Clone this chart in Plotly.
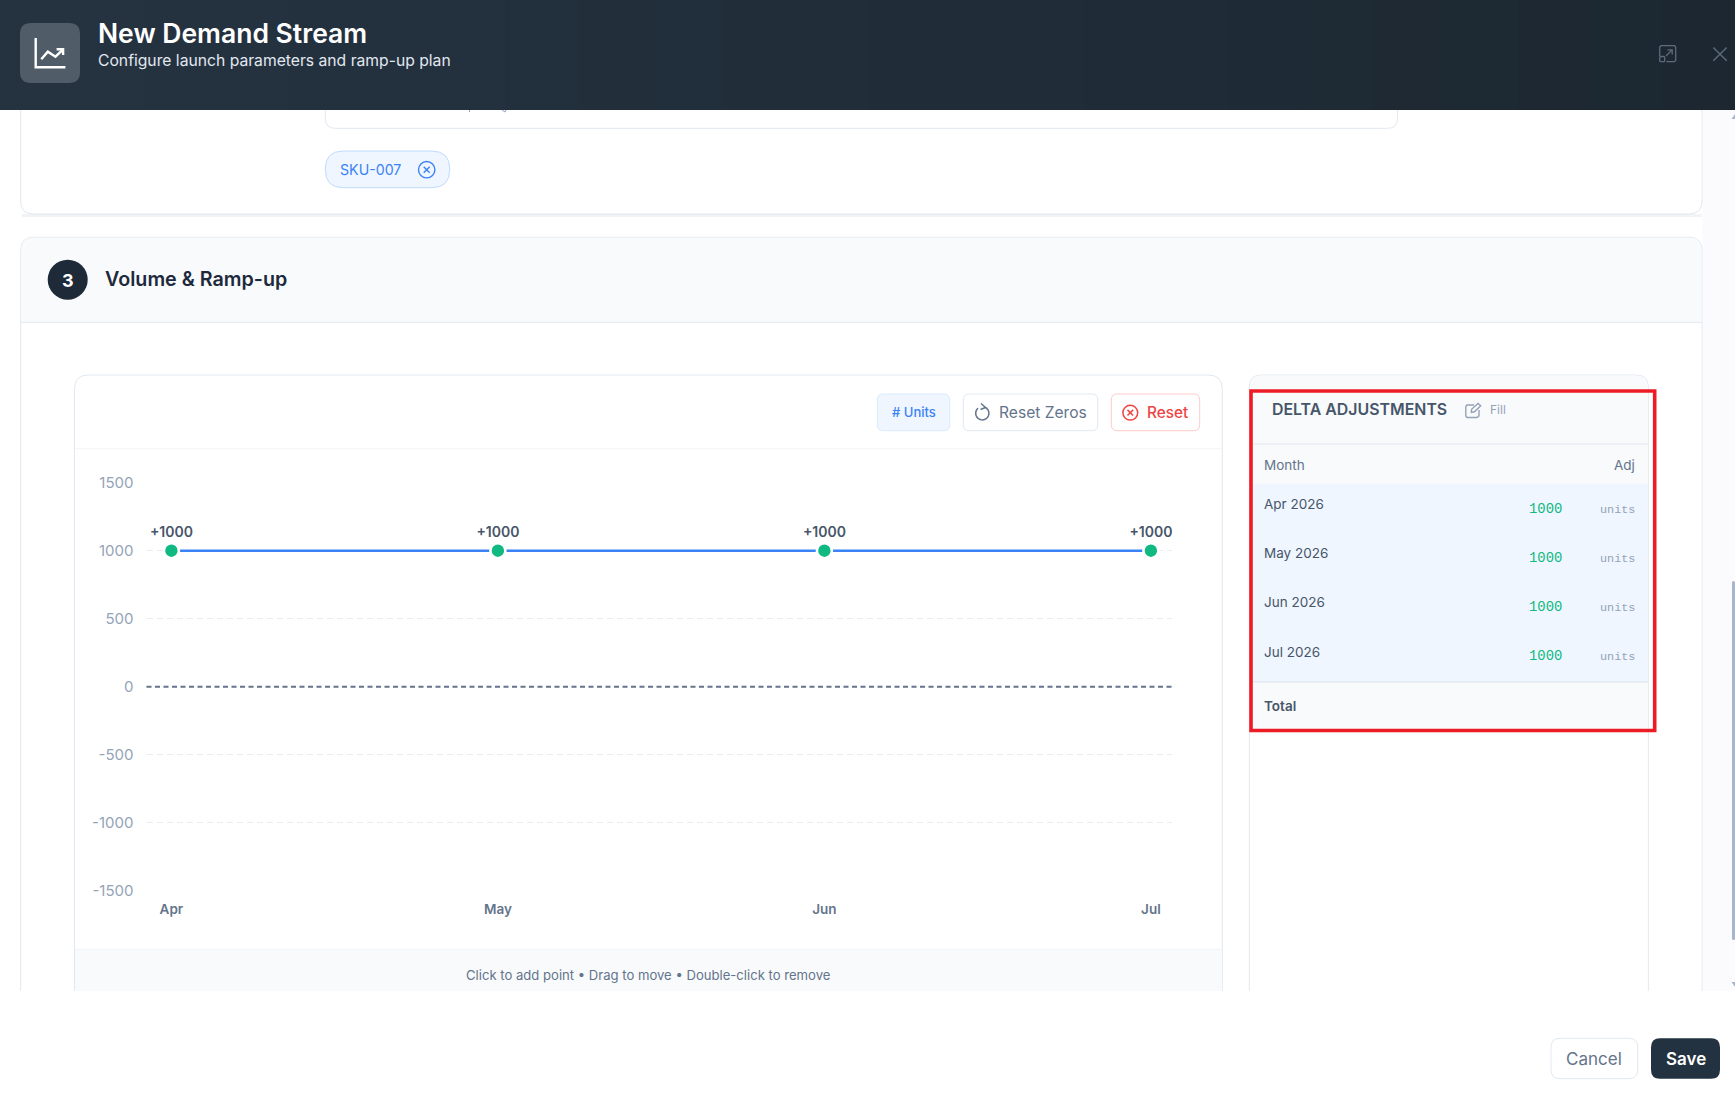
import math
import plotly.graph_objects as go

# ---------- chart data ----------
months = ["Apr", "May", "Jun", "Jul"]
month_labels = ["Apr 2026", "May 2026", "Jun 2026", "Jul 2026"]
deltas = [1000, 1000, 1000, 1000]
y_ticks = [-1500, -1000, -500, 0, 500, 1000, 1500]

W, H = 1735, 1093
X = lambda p: p / W
Y = lambda p: 1 - p / H
FONT = "Inter"

shapes, annots = [], []


def rrect(x0, y0, x1, y1, r=0, fill="rgba(0,0,0,0)", line=None, lw=1, corners=(1, 1, 1, 1)):
    tl, tr, br, bl = [r * c for c in corners]
    pts = [
        f"M{X(x0+tl)},{Y(y0)}", f"L{X(x1-tr)},{Y(y0)}", f"Q{X(x1)},{Y(y0)} {X(x1)},{Y(y0+tr)}",
        f"L{X(x1)},{Y(y1-br)}", f"Q{X(x1)},{Y(y1)} {X(x1-br)},{Y(y1)}",
        f"L{X(x0+bl)},{Y(y1)}", f"Q{X(x0)},{Y(y1)} {X(x0)},{Y(y1-bl)}",
        f"L{X(x0)},{Y(y0+tl)}", f"Q{X(x0)},{Y(y0)} {X(x0+tl)},{Y(y0)}", "Z",
    ]
    shapes.append(dict(type="path", xref="paper", yref="paper", path="".join(pts), fillcolor=fill,
                       line=dict(color=line or "rgba(0,0,0,0)", width=lw if line else 0), layer="below"))


def poly(points, color, lw=1.5, dash=None):
    p = "M" + "L".join(f"{X(a)},{Y(b)}" for a, b in points)
    shapes.append(dict(type="path", xref="paper", yref="paper", path=p, fillcolor="rgba(0,0,0,0)",
                       line=dict(color=color, width=lw), layer="below"))


def tri(points, color):
    p = "M" + "L".join(f"{X(a)},{Y(b)}" for a, b in points) + "Z"
    shapes.append(dict(type="path", xref="paper", yref="paper", path=p, fillcolor=color,
                       line=dict(color=color, width=0), layer="below"))


def arc(cx, cy, r, a0, a1, color, lw=1.5):
    n = 24
    poly([(cx + r * math.cos(math.radians(a0 + (a1 - a0) * i / n)),
           cy + r * math.sin(math.radians(a0 + (a1 - a0) * i / n))) for i in range(n + 1)], color, lw)


def circle(cx, cy, r, fill="rgba(0,0,0,0)", line=None, lw=1.5):
    shapes.append(dict(type="circle", xref="paper", yref="paper", x0=X(cx - r), x1=X(cx + r), y0=Y(cy + r), y1=Y(cy - r),
                       fillcolor=fill, line=dict(color=line or "rgba(0,0,0,0)", width=lw if line else 0), layer="below"))


def text(x, y, s, size=14, color="#475569", anchor="left", weight=400, family=FONT):
    annots.append(dict(xref="paper", yref="paper", x=X(x), y=Y(y), text=s, showarrow=False, xanchor=anchor,
                       yanchor="middle", borderpad=0, borderwidth=0,
                       font=dict(family=family, size=size, color=color, weight=weight)))


# page background / scrollbar column
rrect(1702.5, 105, 1735, 991, fill="#fbfbfd")
rrect(1732, 581, 1735, 940, r=1.5, fill="#a9b5cc")
tri([(1731.5, 119), (1735, 119), (1735, 114)], "#a9b5cc")
tri([(1731.5, 982), (1735, 982), (1735, 987)], "#a9b5cc")

# card above (scrolled)
rrect(22, 214, 1702, 217, fill="#f1f3f6")
rrect(20.7, 90, 1702, 214, r=13, fill="#ffffff", line="#e2e8f0")
rrect(325.3, 90, 1397.5, 128.3, r=10, fill="#ffffff", line="#e2e8f0")
poly([(469.5, 110), (469.5, 112)], "#94a3b8", 1)
poly([(502, 110), (505, 112), (506, 110)], "#94a3b8", 1)
rrect(325.3, 151, 449.7, 187.7, r=18, fill="#eff6ff", line="#bfdbfe")
text(339.8, 170, "SKU-007", 14.2, "#3b82f6")
circle(426.7, 169.7, 8.2, line="#3b82f6", lw=1.4)
poly([(423.7, 166.7), (429.7, 172.7)], "#3b82f6", 1.4)
poly([(429.7, 166.7), (423.7, 172.7)], "#3b82f6", 1.4)

# volume card
rrect(20.7, 237.3, 1702, 1010, r=13, fill="#ffffff", line="#e2e8f0")
rrect(21.2, 237.8, 1701.5, 322.3, r=13, fill="#f8fafc", corners=(1, 1, 0, 0))
poly([(21, 322.3), (1702, 322.3)], "#e2e8f0", 1)
circle(67.7, 279.7, 20, fill="#1e2a38")
text(67.7, 280, "3", 18, "#ffffff", "center", 700)
text(105.2, 279.3, "Volume &amp; Ramp-up", 19.7, "#1e293b", weight=600)

# chart panel
rrect(74.5, 375, 1222.3, 1010, r=14, fill="#ffffff", line="#e2e8f0")
poly([(75, 448.7), (1222, 448.7)], "#f1f5f9", 1)
rrect(75, 949.3, 1221.8, 1010, fill="#f8fafc")
poly([(75, 949.3), (1222, 949.3)], "#f1f5f9", 1)
text(648.3, 974.7, "Click to add point • Drag to move • Double-click to remove", 13.1, "#64748b", "center")

# toolbar buttons
rrect(877.3, 394, 949.7, 430.7, r=6, fill="#eff6ff", line="#dbeafe")
text(913.5, 412.3, "# Units", 13, "#3b82f6", "center", 500)
rrect(963.3, 394, 1097.7, 430.7, r=6, fill="#ffffff", line="#e2e8f0")
arc(982.3, 413.3, 6.6, -60, 230, "#64748b", 1.5)
poly([(981, 403.5), (985.5, 407.5), (980.5, 409.5)], "#64748b", 1.5)
text(999, 412.7, "Reset Zeros", 15.6, "#64748b")
rrect(1111.3, 394, 1199.7, 430.7, r=6, fill="#ffffff", line="#fecaca")
circle(1130.3, 412.7, 7.4, line="#ef4444", lw=1.5)
poly([(1127.5, 409.9), (1133.1, 415.5)], "#ef4444", 1.5)
poly([(1133.1, 409.9), (1127.5, 415.5)], "#ef4444", 1.5)
text(1147.3, 412.7, "Reset", 15.3, "#ef4444", weight=500)

# delta panel
rrect(1249.3, 375, 1648.3, 1010, r=12, fill="#ffffff", line="#e2e8f0")
rrect(1249.8, 375.5, 1647.8, 731, r=12, fill="#f8fafc", corners=(1, 1, 0, 0))
poly([(1250, 444), (1648, 444)], "#e2e8f0", 1)
rrect(1250, 484, 1648, 681, fill="#eff6ff")
poly([(1250, 681.7), (1648, 681.7)], "#e2e8f0", 1.6)
text(1272.3, 409.7, "DELTA ADJUSTMENTS", 15.9, "#475569", weight=600)
poly([(1479, 410), (1479, 416), (1477, 417.5), (1467, 417.5), (1465.8, 416), (1465.8, 406.5), (1467, 405), (1474, 405)], "#94a3b8", 1.4)
poly([(1471, 412.5), (1471.8, 409), (1478, 403.5), (1480.7, 405.8), (1474.5, 411.8), (1471, 412.5)], "#94a3b8", 1.4)
text(1490, 409.7, "Fill", 12, "#94a3b8")
text(1264, 464.7, "Month", 13.5, "#64748b")
text(1635, 464.7, "Adj", 13.5, "#64748b", "right")
label_y = [504.3, 553.3, 602.3, 652.3]
value_y = [509, 558, 607, 656]
for m, d, ly, vy in zip(month_labels, deltas, label_y, value_y):
    text(1264, ly, m, 13.5, "#475569")
    text(1561.8, vy, str(d), 13.9, "#10b981", "right", family="Liberation Mono")
    text(1634.5, vy + 1, "units", 11.8, "#94a3b8", "right", family="Liberation Mono")
text(1264, 706.3, "Total", 13.5, "#475569", weight=600)
rrect(1251, 391, 1654.7, 730.5, line="#ed1c24", lw=3.6)

# footer
rrect(0, 991, 1735, 1093, fill="#ffffff")
rrect(1551, 1038.3, 1637.7, 1078.7, r=9, fill="#ffffff", line="#e2e8f0")
text(1594.3, 1058.7, "Cancel", 17, "#64748b", "center")
rrect(1651, 1038.3, 1720, 1078.7, r=9, fill="#233240")
text(1685.5, 1058.7, "Save", 17, "#ffffff", "center", 600)

# header band (horizontal gradient in slices)
n = 24
for i in range(n):
    t = i / (n - 1)
    c = (round(0x25 + (0x1c - 0x25) * t), round(0x33 + (0x27 - 0x33) * t), round(0x41 + (0x31 - 0x41) * t))
    rrect(W * i / n, 0, W * (i + 1) / n + 1, 110, fill="rgb(%d,%d,%d)" % c)
rrect(20, 23, 80, 83, r=11, fill="#505c68")
poly([(35.7, 38), (35.7, 67.2), (65.4, 67.2)], "#ffffff", 2.4)
poly([(41.3, 59.3), (47.8, 51.7), (55.5, 56.7), (63.1, 49.3)], "#ffffff", 2.4)
poly([(56.6, 49.3), (63.1, 49.3), (63.1, 55)], "#ffffff", 2.4)
text(98, 33.3, "New Demand Stream", 26.5, "#ffffff", weight=600)
text(98, 60.7, "Configure launch parameters and ramp-up plan", 15.7, "#e2e8f0")
ic = "#5f6b7c"
poly([(1659.7, 56), (1659.7, 47), (1661, 45.7), (1674.5, 45.7), (1675.7, 47), (1675.7, 60.5), (1674.5, 61.7), (1666.5, 61.7)], ic, 1.3)
rrect(1659.7, 56.5, 1664.7, 61.7, r=1, line=ic, lw=1.3)
poly([(1666, 56), (1672, 50)], ic, 1.3)
poly([(1667.5, 49.8), (1672.2, 49.8), (1672.2, 54.5)], ic, 1.3)
poly([(1713.3, 47.5), (1726.7, 60.7)], ic, 1.4)
poly([(1726.7, 47.5), (1713.3, 60.7)], ic, 1.4)

# ---------- plot ----------
plot_left, plot_right, plot_top, plot_bottom = 146.5, 1171.7, 482.7, 890.7
first_x, step = 171.4, 326.5

fig = go.Figure()
fig.add_trace(go.Scatter(
    x=months, y=deltas, mode="lines+markers+text",
    text=[f"+{d}" for d in deltas], textposition="top center",
    textfont=dict(family=FONT, size=14, color="#475569", weight=600),
    line=dict(color="#3b82f6", width=2.5),
    marker=dict(color="#10b981", size=15, line=dict(color="#ffffff", width=2.6)),
    cliponaxis=False, hoverinfo="skip", showlegend=False,
))

zero_base = dict(type="line", xref="x domain", yref="y", x0=0, x1=1, y0=0, y1=0,
                 line=dict(color="#ffffff", width=2), layer="above")
zero_line = dict(type="line", xref="x domain", yref="y", x0=0, x1=1, y0=0, y1=0,
                 line=dict(color="#64748b", width=2, dash="5px,3.5px"), layer="above")
shapes.extend([zero_base, zero_line])

fig.update_layout(
    width=W, height=H, autosize=False,
    margin=dict(l=0, r=0, t=0, b=0, pad=0),
    paper_bgcolor="#ffffff", plot_bgcolor="rgba(0,0,0,0)",
    showlegend=False, shapes=shapes, annotations=annots,
    xaxis=dict(
        domain=[X(plot_left), X(plot_right)], automargin=False,
        type="category", categoryorder="array", categoryarray=months,
        range=[(plot_left - first_x) / step, (plot_right - first_x) / step],
        showgrid=False, zeroline=False, showline=False, ticks="", ticklabelstandoff=9,
        tickfont=dict(family=FONT, size=13.5, color="#64748b", weight=600),
        fixedrange=True,
    ),
    yaxis=dict(
        domain=[Y(plot_bottom), Y(plot_top)], automargin=False,
        range=[-1500, 1500], tickvals=y_ticks, ticktext=[str(v) for v in y_ticks],
        showgrid=True, gridcolor="#e9edf3", griddash="6px,4px", gridwidth=1,
        zeroline=False, showline=False, ticks="", ticklabelstandoff=12,
        tickfont=dict(family=FONT, size=15, color="#94a3b8"),
        fixedrange=True,
    ),
)

fig.write_html("out.html", config=dict(displayModeBar=False, responsive=False),
               post_script="document.body.style.margin='0';document.body.style.overflow='hidden';")
